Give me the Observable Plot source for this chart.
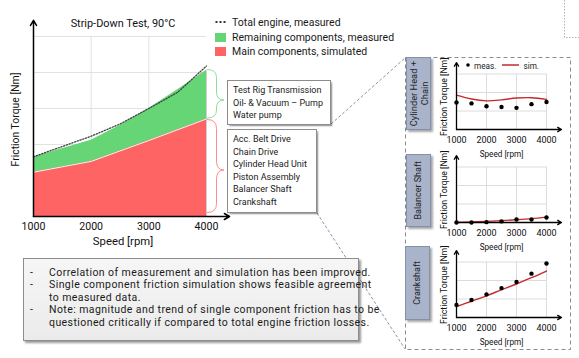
<!DOCTYPE html>
<html><head><meta charset="utf-8">
<script src="https://cdn.jsdelivr.net/npm/d3@7"></script>
<script src="https://cdn.jsdelivr.net/npm/@observablehq/plot@0.6"></script>
<style>
html,body{margin:0;padding:0;background:#fff;}
#root{position:relative;width:579px;height:358px;overflow:hidden;color:#1a1a1a;}
.abs{position:absolute;}
.box{position:absolute;box-sizing:border-box;background:#fff;border:1px solid #8c8c8c;box-shadow:1.5px 1.5px 1.5px rgba(0,0,0,.35);font-size:9px;line-height:12.5px;padding:3.2px 0 0 5px;white-space:nowrap;}
.note{position:absolute;box-sizing:border-box;background:linear-gradient(#f6f6f6,#ebebeb);border:1px solid #8c8c8c;box-shadow:2px 2px 2px rgba(0,0,0,.4);font-size:10.5px;line-height:12.4px;letter-spacing:0.42px;padding:8px 0 0 0;white-space:nowrap;}
.note .it{position:relative;padding-left:25px;}
.note .it b{position:absolute;left:6px;font-weight:normal;}
.lbl{position:absolute;box-sizing:border-box;background:#a9b4cb;border:1px solid #8591aa;box-shadow:2px 2px 2px rgba(0,0,0,.35);display:flex;align-items:center;justify-content:center;}
.lbl span{writing-mode:vertical-rl;transform:rotate(180deg);text-align:center;line-height:11px;color:#222;white-space:nowrap;}
.leg{position:absolute;font-size:10.5px;white-space:nowrap;line-height:14px;}
.sw{display:inline-block;width:11px;height:9px;margin-right:6px;vertical-align:-1px;}
</style></head><body><div id="root"></div>
<script>
const FONT = 'Roboto, "Liberation Sans", sans-serif';
const GREEN = "#66d575", RED = "#ff6464", SIM = "#c62a2e";

// ---- Main chart data ----
const xTicks = [1000, 2000, 3000, 4000];
const mainGrid = [1, 2, 3, 4, 5];
const remainingSpeed = [1000, 2000, 2500, 3000, 3500, 4000];
const remainingTop = [1.65, 2.12, 2.53, 3.0, 3.52, 4.06];
const totalSpeed = [1000, 2000, 2500, 3000, 3500, 4000];
const totalMeasured = [1.66, 2.23, 2.57, 3.0, 3.45, 4.18];
const mainSpeed = [1000, 2000, 3000, 4000];
const mainSimulated = [1.23, 1.53, 2.11, 2.71];

// ---- Inset data ----
const insetSpeed = [1000, 1500, 2000, 2500, 3000, 3500, 4000];
const insetGrid = [1, 2, 3];
const chMeas = [1.46, 1.41, 1.26, 1.22, 1.17, 1.37, 1.49];
const chSim = [1.86, 1.65, 1.55, 1.60, 1.70, 1.72, 1.63];
const balMeas = [0, 0, 0.02, 0.06, 0.16, 0.16, 0.27];
const balSim = [0, 0.03, 0.06, 0.10, 0.15, 0.21, 0.29];
const crankMeas = [0.68, 0.95, 1.25, 1.59, 1.92, 2.37, 2.92];
const crankSim = [0.59, 0.88, 1.17, 1.50, 1.81, 2.15, 2.51];

// ---- Texts ----
const title = "Strip-Down Test, 90°C";
const xLabel = "Speed [rpm]";
const yLabel = "Friction Torque [Nm]";
const legendLabels = ["Total engine, measured", "Remaining components, measured", "Main components, simulated"];
const remainingList = ["Test Rig Transmission", "Oil- & Vacuum – Pump", "Water pump"];
const mainList = ["Acc. Belt Drive", "Chain Drive", "Cylinder Head Unit", "Piston Assembly", "Balancer Shaft", "Crankshaft"];
const notes = [
  ["Correlation of measurement and simulation has been improved."],
  ["Single component friction simulation shows feasible agreement", "to measured data."],
  ["Note: magnitude and trend of single component friction has to be", "questioned critically if compared to total engine friction losses."]
];
const insetNames = [["Cylinder Head +", "Chain"], ["Balancer Shaft"], ["Crankshaft"]];
const insetLegend = ["meas.", "sim."];

const root = document.getElementById("root");
root.style.fontFamily = FONT;
const zip = (xs, ys) => xs.map((x, i) => ({x, y: ys[i]}));

// ---- decorative overlay: panel, connectors, braces ----
function brace(x0, y0, y1, ym, x1, x2, r) {
  return `M${x0},${y0} Q${x1},${y0} ${x1},${y0 + r} L${x1},${ym - r} Q${x1},${ym} ${x2},${ym} Q${x1},${ym} ${x1},${ym + r} L${x1},${y1 - r} Q${x1},${y1} ${x0},${y1}`;
}
const ns = "http://www.w3.org/2000/svg";
const ov = document.createElementNS(ns, "svg");
ov.setAttribute("width", 579); ov.setAttribute("height", 358);
ov.setAttribute("class", "abs"); ov.style.left = "0"; ov.style.top = "0";
ov.innerHTML = `
 <path d="M564.5,0 V37.5 H579" fill="none" stroke="#b0b0b0" stroke-dasharray="1.5 1.5"/>
 <rect x="405.5" y="57.5" width="165" height="292" fill="none" stroke="#8a8a8a" stroke-dasharray="4 3"/>
 <line x1="331" y1="124" x2="405" y2="58" stroke="#8a94a8" stroke-dasharray="3 2"/>
 <line x1="317" y1="213" x2="405" y2="349" stroke="#8a94a8" stroke-dasharray="3 2"/>
 <path d="${brace(207, 69.5, 118, 100, 216.5, 224, 8)}" fill="none" stroke="#8ee098" stroke-width="1"/>
 <path d="${brace(207, 119.5, 212.5, 170, 216.5, 224, 9)}" fill="none" stroke="#ff8c8c" stroke-width="1"/>
`;
root.appendChild(ov);

// ---- main chart ----
const green = zip(remainingSpeed, remainingTop);
const red = zip(mainSpeed, mainSimulated);
const total = zip(totalSpeed, totalMeasured);
const main = Plot.plot({
  width: 240, height: 250,
  marginLeft: 33, marginRight: 34, marginTop: 36, marginBottom: 34,
  style: {fontFamily: FONT, fontSize: "10.6px", color: "#111", background: "transparent", overflow: "visible"},
  x: {domain: [1000, 4000], ticks: xTicks, tickSize: 0, tickPadding: 6, tickFormat: d => String(d), label: null},
  y: {domain: [0, 5], axis: null},
  marks: [
    Plot.ruleY(mainGrid, {stroke: "#e2e2e2"}),
    Plot.ruleX(xTicks.slice(1, 3), {stroke: "#e2e2e2"}),
    Plot.areaY(green, {x: "x", y: "y", fill: GREEN}),
    Plot.areaY(red, {x: "x", y: "y", fill: RED}),
    Plot.line(red, {x: "x", y: "y", stroke: "#f4f4f4", strokeWidth: 1}),
    Plot.ruleX(green.slice(-1), {x: "x", y1: 0, y2: "y", stroke: "#cfcfcf"}),
    Plot.line(total, {x: "x", y: "y", stroke: "#444", strokeWidth: 1.3, strokeDasharray: "1.3 1.6"}),
    Plot.arrow([{a: xTicks[0]}], {x1: "a", y1: 0, x2: "a", y2: 5.45, stroke: "#000", strokeWidth: 1.5, headLength: 6}),
    Plot.arrow([{a: xTicks[0]}], {x1: "a", y1: 0, x2: 4400, y2: 0, stroke: "#000", strokeWidth: 1.5, headLength: 6}),
    Plot.text([title], {text: d => d, frameAnchor: "top", lineAnchor: "middle", dx: 3, dy: -13.3, fontSize: 10.9}),
    Plot.text([xLabel], {text: d => d, frameAnchor: "bottom", lineAnchor: "middle", dx: 3, dy: 24.7, fontSize: 11.3}),
    Plot.text([yLabel], {text: d => d, frameAnchor: "left", textAnchor: "middle", lineAnchor: "middle", rotate: -90, dx: -18, dy: -7, fontSize: 10.4})
  ]
});
main.style.position = "absolute"; main.style.left = "0px"; main.style.top = "0px";
root.appendChild(main);

// ---- legend ----
const legTops = [16.3, 30.7, 45.3];
legendLabels.forEach((t, i) => {
  const d = document.createElement("div");
  d.className = "leg";
  d.style.left = "215px"; d.style.top = legTops[i] + "px";
  const marker = i === 0
    ? `<svg width="12" height="4" style="margin-right:5px;vertical-align:2px"><line x1="0.5" y1="2" x2="12" y2="2" stroke="#333" stroke-width="2" stroke-dasharray="2 2"/></svg>`
    : `<span class="sw" style="background:${i === 1 ? GREEN : RED}"></span>`;
  d.innerHTML = marker + t;
  root.appendChild(d);
});

// ---- text boxes ----
function addBox(cls, left, top, w, h, html) {
  const d = document.createElement("div");
  d.className = cls;
  Object.assign(d.style, {left: left + "px", top: top + "px", width: w + "px", height: h + "px"});
  d.innerHTML = html;
  root.appendChild(d);
  return d;
}
addBox("box", 227, 80, 104, 45, remainingList.join("<br>"));
addBox("box", 227, 129, 90, 84, mainList.join("<br>"));
addBox("note", 23, 258, 336, 83, notes.map(n => `<div class="it"><b>-</b>${n.join("<br>")}</div>`).join(""));

// ---- inset labels ----
const lblPos = [[406, 57, 25, 73, 9.3], [406, 154, 25, 73, 9], [405, 246, 25, 74, 9]];
insetNames.forEach((n, i) => {
  const [l, t, w, h, fs] = lblPos[i];
  addBox("lbl", l, t, w, h, `<span style="font-size:${fs}px">${n.join("<br>")}</span>`);
});

// ---- inset charts ----
function inset(meas, sim, top) {
  const pts = insetSpeed.map((x, i) => ({x, m: meas[i], s: sim[i]}));
  const p = Plot.plot({
    width: 140, height: 100,
    marginLeft: 26, marginRight: 24, marginTop: 16.5, marginBottom: 28,
    style: {fontFamily: FONT, fontSize: "9px", color: "#111", background: "transparent", overflow: "visible"},
    x: {domain: [1000, 4000], ticks: xTicks, tickSize: 0, tickPadding: 7.5, tickFormat: d => String(d), label: null},
    y: {domain: [0, 3], axis: null},
    marks: [
      Plot.ruleY(insetGrid, {stroke: "#dcdcdc"}),
      Plot.ruleX(xTicks.slice(1), {stroke: "#dcdcdc"}),
      Plot.line(pts, {x: "x", y: "s", stroke: SIM, strokeWidth: 1.4, curve: "catmull-rom"}),
      Plot.dot(pts, {x: "x", y: "m", r: 2.2, fill: "#000"}),
      Plot.arrow([{a: xTicks[0]}], {x1: "a", y1: 0, x2: "a", y2: 3.62, stroke: "#000", strokeWidth: 1.3, headLength: 5}),
      Plot.arrow([{a: xTicks[0]}], {x1: "a", y1: 0, x2: 4500, y2: 0, stroke: "#000", strokeWidth: 1.3, headLength: 5}),
      Plot.text([xLabel], {text: d => d, frameAnchor: "bottom", lineAnchor: "middle", dy: 24.5, fontSize: 8.2}),
      Plot.text([yLabel], {text: d => d, frameAnchor: "left", textAnchor: "middle", lineAnchor: "middle", rotate: -90, dx: -12.7, dy: -5, fontSize: 8.7})
    ]
  });
  p.style.position = "absolute"; p.style.left = "430px"; p.style.top = top + "px";
  root.appendChild(p);
}
inset(chMeas, chSim, 57.3);
inset(balMeas, balSim, 149.7);
inset(crankMeas, crankSim, 244.7);

// inset legend
const il = document.createElement("div");
il.className = "abs";
Object.assign(il.style, {left: "464px", top: "59.5px", fontSize: "8.2px", lineHeight: "12px", whiteSpace: "nowrap"});
il.innerHTML = `<svg width="8" height="8" style="vertical-align:0px"><circle cx="4" cy="4" r="1.8" fill="#000"/></svg> ${insetLegend[0]} <svg width="18" height="8" style="margin:0 3px 0 4px;vertical-align:0px"><line x1="0" y1="4" x2="17" y2="4" stroke="${SIM}" stroke-width="1.5"/></svg>${insetLegend[1]}`;
root.appendChild(il);
</script></body></html>
